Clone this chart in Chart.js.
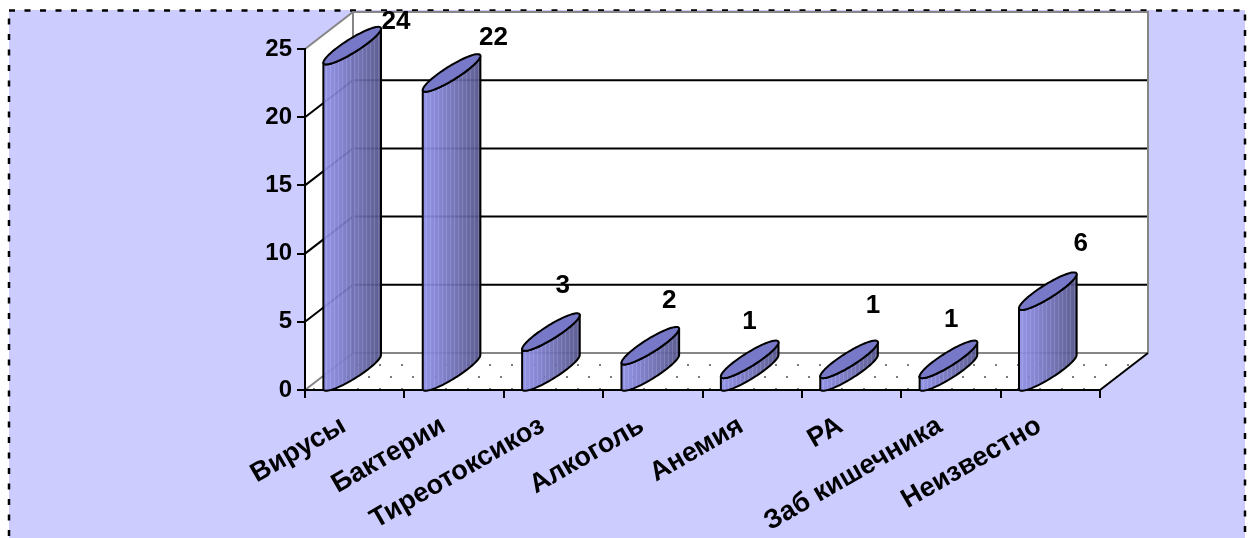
<!DOCTYPE html>
<html>
<head>
<meta charset="utf-8">
<script src="https://cdn.jsdelivr.net/npm/chart.js@4.4.0/dist/chart.umd.min.js"></script>
<style>
  html, body { margin: 0; padding: 0; background: #fff; overflow: hidden; }
  canvas { display: block; }
</style>
</head>
<body>
<canvas id="chart" width="1253" height="538"></canvas>
<script>
// Причины заболевания: число случаев
const categories = ['Вирусы', 'Бактерии', 'Тиреотоксикоз', 'Алкоголь', 'Анемия', 'РА', 'Заб кишечника', 'Неизвестно'];
const counts = [24, 22, 3, 2, 1, 1, 1, 6];
const yTicks = [0, 5, 10, 15, 20, 25];

// 3D look: depth offset of the back wall, cylinder slant and thickness
const DEPTH_X = 48, DEPTH_Y = 37;
const SLANT = 17, THICK = 8;
// value labels, placed relative to the top-right corner of each cylinder
const labelNudge = [[15, -7], [13, -18], [-17, -29], [-10, -28], [-29, -21], [-5, -37], [-26, -23], [4, -30]];
// category labels sit a little left of their tick
const CATEGORY_LABEL_SHIFT = -11;

const FONT = "'Liberation Sans', Arial, sans-serif";

function floorPattern(ctx) {
  const c = document.createElement('canvas');
  c.width = 22; c.height = 24;
  const g = c.getContext('2d');
  g.fillStyle = '#fff';
  g.fillRect(0, 0, 22, 24);
  g.fillStyle = '#7c7c7c';
  g.fillRect(5, 4, 2, 2);
  g.fillRect(16, 16, 2, 2);
  return ctx.createPattern(c, 'repeat');
}

function line(ctx, pts, color, width) {
  ctx.beginPath();
  ctx.moveTo(pts[0][0], pts[0][1]);
  for (let i = 1; i < pts.length; i++) ctx.lineTo(pts[i][0], pts[i][1]);
  ctx.strokeStyle = color;
  ctx.lineWidth = width;
  ctx.stroke();
}

function poly(ctx, pts, fill) {
  ctx.beginPath();
  ctx.moveTo(pts[0][0], pts[0][1]);
  for (let i = 1; i < pts.length; i++) ctx.lineTo(pts[i][0], pts[i][1]);
  ctx.closePath();
  ctx.fillStyle = fill;
  ctx.fill();
}

// point on a slanted ellipse whose left end sits at (cx - a, yl)
function ep(cx, yl, a, t) {
  return [cx + a * Math.cos(t), yl - SLANT - SLANT * Math.cos(t) + THICK * Math.sin(t)];
}

const STEPS = 48;

function bodyPath(ctx, cx, a, yTop, yBase) {
  ctx.beginPath();
  let p = ep(cx, yTop, a, Math.PI);
  ctx.moveTo(p[0], p[1]);
  p = ep(cx, yBase, a, Math.PI);
  ctx.lineTo(p[0], p[1]);
  for (let k = 1; k <= STEPS; k++) {
    p = ep(cx, yBase, a, Math.PI - Math.PI * k / STEPS);
    ctx.lineTo(p[0], p[1]);
  }
  p = ep(cx, yTop, a, 0);
  ctx.lineTo(p[0], p[1]);
  for (let k = 1; k <= STEPS; k++) {
    p = ep(cx, yTop, a, Math.PI * k / STEPS);
    ctx.lineTo(p[0], p[1]);
  }
  ctx.closePath();
}

function capPath(ctx, cx, a, yTop) {
  ctx.beginPath();
  for (let k = 0; k <= 2 * STEPS; k++) {
    const p = ep(cx, yTop, a, Math.PI * k / STEPS);
    if (k === 0) ctx.moveTo(p[0], p[1]); else ctx.lineTo(p[0], p[1]);
  }
  ctx.closePath();
}

function drawCylinder(ctx, cx, a, yTop, yBase) {
  const grad = ctx.createLinearGradient(cx - a, 0, cx + a, 0);
  grad.addColorStop(0, '#8e8ee6');
  grad.addColorStop(0.25, '#7e7ed2');
  grad.addColorStop(0.6, '#6a6ab0');
  grad.addColorStop(1, '#52528a');

  ctx.save();
  bodyPath(ctx, cx, a, yTop, yBase);
  ctx.globalAlpha = 0.93;
  ctx.fillStyle = grad;
  ctx.fill();
  ctx.globalAlpha = 1;
  // fine vertical shading stripes
  ctx.clip();
  ctx.strokeStyle = 'rgba(255,255,255,0.14)';
  ctx.lineWidth = 1;
  for (let sx = cx - a + 3; sx < cx + a; sx += 4) {
    ctx.beginPath();
    ctx.moveTo(Math.round(sx) + 0.5, yTop - 2 * SLANT - THICK);
    ctx.lineTo(Math.round(sx) + 0.5, yBase + THICK);
    ctx.stroke();
  }
  ctx.restore();

  ctx.save();
  ctx.strokeStyle = '#000';
  ctx.lineWidth = 2;
  ctx.lineJoin = 'round';
  bodyPath(ctx, cx, a, yTop, yBase);
  ctx.stroke();
  capPath(ctx, cx, a, yTop);
  ctx.fillStyle = '#7878c8';
  ctx.fill();
  ctx.stroke();
  ctx.restore();
}

const scene = {
  id: 'scene',
  beforeDraw(chart) {
    const { ctx, chartArea: ca, scales: { x, y } } = chart;

    // nudge the rotated category labels
    x.getLabelItems().forEach(item => {
      if (!item._shifted) {
        item.options.translation[0] += CATEGORY_LABEL_SHIFT;
        item._shifted = true;
      }
    });

    ctx.save();
    // panel
    ctx.fillStyle = '#fff';
    ctx.fillRect(0, 0, chart.width, chart.height);
    ctx.fillStyle = '#CCCCFF';
    ctx.fillRect(9, 10, 1236, 600);
    ctx.setLineDash([6, 9.5]);
    ctx.lineWidth = 2.5;
    ctx.strokeStyle = '#000';
    ctx.strokeRect(9, 10.5, 1236, 600);
    ctx.setLineDash([]);

    const x0 = ca.left, x1 = ca.right;
    const yb = y.getPixelForValue(yTicks[0]);
    const yt = y.getPixelForValue(yTicks[yTicks.length - 1]);
    const bx0 = x0 + DEPTH_X, bx1 = x1 + DEPTH_X;
    const byb = yb - DEPTH_Y, byt = yt - DEPTH_Y;

    // walls and floor
    poly(ctx, [[x0, yb], [x0, yt], [bx0, byt], [bx0, byb]], '#fff');
    poly(ctx, [[bx0, byt], [bx1, byt], [bx1, byb], [bx0, byb]], '#fff');
    poly(ctx, [[x0, yb], [x1, yb], [bx1, byb], [bx0, byb]], floorPattern(ctx));

    // gridlines across the side and back walls
    yTicks.slice(1, -1).forEach(v => {
      const py = y.getPixelForValue(v);
      line(ctx, [[x0, py], [bx0, py - DEPTH_Y], [bx1, py - DEPTH_Y]], '#000', 2);
    });

    // wall edges
    line(ctx, [[x0, yt], [bx0, byt], [bx1, byt], [bx1, byb]], '#868686', 2);
    line(ctx, [[bx0, byt], [bx0, byb]], '#868686', 2);
    line(ctx, [[x0, yb], [bx0, byb], [bx1, byb]], '#868686', 2);
    line(ctx, [[x1, yb], [bx1, byb]], '#000', 2);
    ctx.restore();
  },
  afterDatasetsDraw(chart) {
    const { ctx } = chart;
    const meta = chart.getDatasetMeta(0);
    meta.data.forEach(bar => {
      drawCylinder(ctx, bar.x - 2.5, bar.width / 2, bar.y, bar.base);
    });
    ctx.save();
    ctx.fillStyle = '#000';
    ctx.font = 'bold 26px ' + FONT;
    ctx.textAlign = 'center';
    ctx.textBaseline = 'middle';
    meta.data.forEach((bar, i) => {
      const xr = bar.x - 2.5 + bar.width / 2;
      const yr = bar.y - 2 * SLANT;
      ctx.fillText(String(counts[i]), xr + labelNudge[i][0], yr + labelNudge[i][1]);
    });
    ctx.restore();
  }
};

new Chart(document.getElementById('chart'), {
  type: 'bar',
  data: {
    labels: categories,
    datasets: [{
      data: counts,
      backgroundColor: 'rgba(0,0,0,0)',
      borderWidth: 0,
      categoryPercentage: 1,
      barPercentage: 0.58
    }]
  },
  options: {
    responsive: false,
    animation: false,
    devicePixelRatio: 1,
    layout: { padding: { left: 0, right: 153, top: 49, bottom: 0 } },
    plugins: { legend: { display: false }, tooltip: { enabled: false } },
    scales: {
      x: {
        grid: { offset: true, drawOnChartArea: false, drawTicks: true, tickLength: 8, color: '#000', lineWidth: 2 },
        border: { display: true, color: '#000', width: 2 },
        ticks: {
          autoSkip: false, minRotation: 30, maxRotation: 30, padding: 13,
          color: '#000', font: { family: FONT, size: 27, weight: 'bold', lineHeight: 1.1 }
        },
        afterFit(s) { s.height = 148; }
      },
      y: {
        min: yTicks[0], max: yTicks[yTicks.length - 1],
        afterBuildTicks(s) { s.ticks = yTicks.map(v => ({ value: v })); },
        grid: { drawOnChartArea: false, drawTicks: true, tickLength: 8, color: '#000', lineWidth: 2 },
        border: { display: true, color: '#000', width: 2 },
        ticks: { padding: 5, color: '#000', font: { family: FONT, size: 24, weight: 'bold' } },
        afterFit(s) { s.width = 305; }
      }
    }
  },
  plugins: [scene]
});
</script>
</body>
</html>
